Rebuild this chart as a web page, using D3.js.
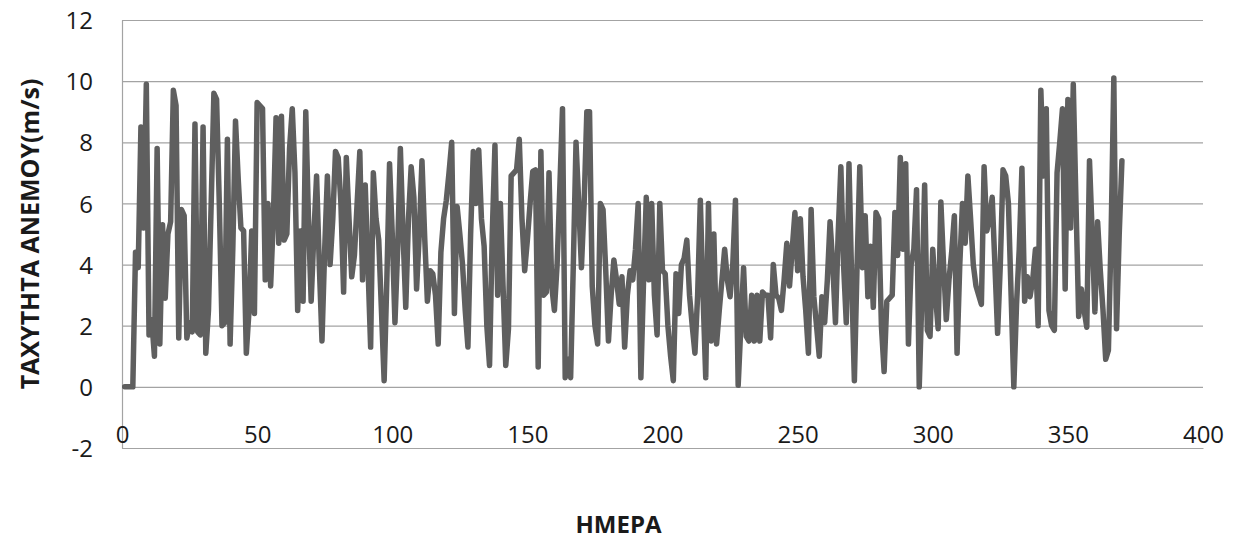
<!DOCTYPE html>
<html>
<head>
<meta charset="utf-8">
<script src="https://cdn.jsdelivr.net/npm/d3@7"></script>
<style>
  html, body { margin: 0; padding: 0; background: #fff; }
  svg text { font-family: "Open Sans", "Liberation Sans", sans-serif; fill: #1a1a1a; }
  .grid line, .grid path, .xaxis path { stroke: #a3a3a3; stroke-width: 1.2px; }
</style>
</head>
<body>
<svg id="chart" width="1237" height="542"></svg>
<script>
// wind speed per day (m/s), days 1..370
const speeds = [
  0, 0, 0, 0, 4.4, 3.9, 8.5, 5.2, 9.9, 1.7,
  2.2, 1.0, 7.8, 1.4, 5.3, 2.9, 5.0, 5.4, 9.7, 9.2,
  1.6, 5.8, 5.6, 1.6, 2.1, 1.8, 8.6, 1.8, 1.7, 8.5,
  1.1, 2.5, 6.0, 9.6, 9.4, 6.0, 2.0, 2.1, 8.1, 1.4,
  4.5, 8.7, 6.8, 5.2, 5.1, 1.1, 2.5, 5.1, 2.4, 9.3,
  9.2, 9.1, 3.5, 6.0, 3.3, 5.5, 8.8, 4.7, 8.85, 4.8,
  5.0, 7.8, 9.1, 7.0, 2.5, 5.1, 2.8, 9.0, 5.5, 2.8,
  5.0, 6.9, 4.0, 1.5, 4.5, 6.9, 4.0, 5.5, 7.7, 7.5,
  6.0, 3.1, 7.5, 5.5, 3.6, 4.3, 6.0, 7.7, 3.5, 6.6,
  4.0, 1.3, 7.0, 5.5, 4.8, 2.5, 0.2, 3.5, 7.3, 5.0,
  2.1, 4.5, 7.8, 5.0, 2.6, 5.5, 7.2, 6.2, 3.2, 5.0,
  7.4, 4.9, 2.8, 3.8, 3.7, 3.0, 1.4, 4.4, 5.5, 6.1,
  7.0, 8.0, 2.4, 5.9, 5.0, 4.0, 2.5, 1.3, 5.0, 7.7,
  6.0, 7.75, 5.5, 4.6, 2.0, 0.7, 5.0, 7.9, 3.0, 6.0,
  3.3, 0.7, 1.9, 6.9, 7.0, 7.1, 8.1, 5.5, 3.8, 4.8,
  6.0, 7.05, 7.1, 0.65, 7.7, 3.0, 3.1, 7.0, 3.3, 2.5,
  4.0, 6.5, 9.1, 0.3, 0.9, 0.3, 4.0, 8.0, 6.0, 3.9,
  6.0, 9.0, 9.0, 3.3, 2.0, 1.4, 6.0, 5.8, 3.8, 1.5,
  3.0, 4.15, 3.5, 2.7, 3.6, 1.3, 3.0, 3.8, 3.5, 4.5,
  6.0, 0.3, 3.5, 6.2, 3.5, 6.0, 3.0, 1.7, 6.0, 3.8,
  3.7, 2.0, 1.0, 0.2, 3.7, 2.4, 4.0, 4.2, 4.8, 3.0,
  2.0, 1.1, 3.0, 6.1, 3.0, 0.3, 6.0, 1.5, 5.0, 1.4,
  2.5, 3.5, 4.5, 3.5, 2.95, 4.0, 6.1, 0.05, 2.0, 3.9,
  1.65, 1.5, 3.0, 1.5, 3.0, 1.5, 3.1, 3.0, 3.0, 1.6,
  4.0, 3.0, 2.9, 2.5, 3.5, 4.7, 3.3, 4.5, 5.7, 3.8,
  5.5, 3.6, 2.5, 1.1, 5.8, 2.95, 2.0, 1.0, 2.95, 2.1,
  3.5, 5.4, 4.0, 2.1, 5.0, 7.2, 4.0, 2.1, 7.3, 3.5,
  0.2, 4.0, 7.2, 3.9, 5.6, 2.95, 4.6, 2.6, 5.7, 5.5,
  2.0, 0.5, 2.8, 2.9, 3.0, 5.7, 4.3, 7.5, 4.5, 7.3,
  1.4, 4.0, 4.5, 6.45, 0.0, 3.0, 6.6, 1.85, 1.65, 4.5,
  3.0, 1.9, 6.05, 4.0, 2.2, 3.5, 4.4, 5.6, 1.1, 4.0,
  6.0, 4.7, 6.9, 5.5, 4.0, 3.3, 3.0, 2.7, 7.2, 5.1,
  5.5, 6.2, 4.0, 1.75, 4.0, 7.1, 6.9, 6.0, 3.0, 0.0,
  2.7, 4.5, 7.15, 2.8, 3.6, 2.95, 3.5, 4.5, 2.0, 9.7,
  6.9, 9.1, 2.5, 2.0, 1.85, 7.0, 8.0, 9.1, 3.2, 9.4,
  5.2, 9.9, 6.0, 2.3, 3.2, 2.5, 1.95, 7.4, 5.0, 2.45,
  5.4, 3.8, 2.5, 0.9, 1.2, 5.0, 10.1, 1.9, 5.0, 7.4
];
const days = speeds.map((d, i) => i + 1);

const xTicks = [0, 50, 100, 150, 200, 250, 300, 350, 400];
const yTicks = [-2, 0, 2, 4, 6, 8, 10, 12];

const xTitle = "ΗΜΕΡΑ";
const yTitle = "ΤΑΧΥΤΗΤΑ ΑΝΕΜΟΥ(m/s)";

const width = 1237;
const height = 542;
const margin = { top: 20, right: 34, bottom: 94, left: 122 };
const plotW = width - margin.left - margin.right;
const plotH = height - margin.top - margin.bottom;

const svg = d3.select("#chart");
const g = svg.append("g").attr("transform", `translate(${margin.left},${margin.top})`);

const x = d3.scaleLinear().domain([0, 400]).range([0, plotW]);
const y = d3.scaleLinear().domain([-2, 12]).range([plotH, 0]);

// horizontal gridlines + y labels (plain hyphen for the minus, as in Excel)
const yAxis = g.append("g")
    .attr("class", "grid")
    .call(d3.axisLeft(y).tickValues(yTicks).tickFormat(d => String(d))
        .tickSize(-plotW).tickSizeOuter(0).tickPadding(29));
yAxis.selectAll("text").style("font-size", "24px").attr("dy", "0.36em");

// x axis at the bottom, labels sit just above the line
const xAxis = g.append("g")
    .attr("class", "xaxis")
    .attr("transform", `translate(0,${plotH})`)
    .call(d3.axisTop(x).tickValues(xTicks).tickFormat(d => String(d))
        .tickSize(0).tickSizeOuter(0).tickPadding(5));
xAxis.selectAll("text").style("font-size", "24px");

const line = d3.line()
    .x((d, i) => x(days[i]))
    .y(d => y(d));

g.append("path")
    .datum(speeds)
    .attr("fill", "none")
    .attr("stroke", "#5f5f5f")
    .attr("stroke-width", 5.5)
    .attr("stroke-linejoin", "round")
    .attr("stroke-linecap", "round")
    .attr("d", line);

svg.append("text")
    .attr("x", width / 2)
    .attr("y", 533)
    .attr("text-anchor", "middle")
    .style("font-size", "24px")
    .style("font-weight", "bold")
    .text(xTitle);

svg.append("text")
    .attr("transform", `translate(39,${margin.top + plotH / 2}) rotate(-90)`)
    .attr("text-anchor", "middle")
    .style("font-size", "25px")
    .style("font-weight", "bold")
    .text(yTitle);
</script>
</body>
</html>
